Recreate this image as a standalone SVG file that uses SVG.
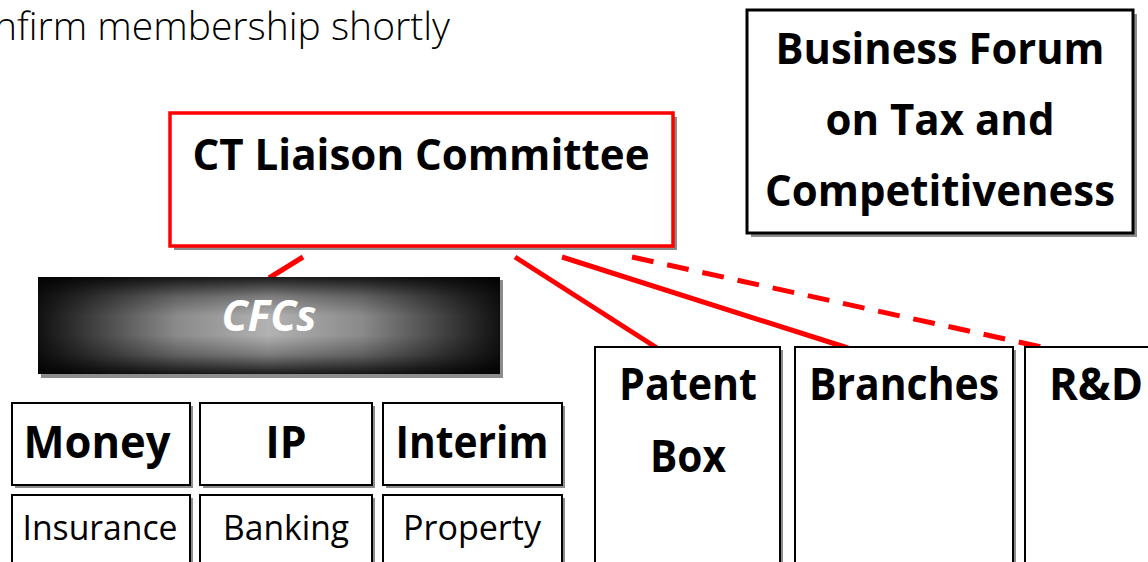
<svg xmlns="http://www.w3.org/2000/svg" width="1148" height="562" viewBox="0 0 1148 562">
<defs>
<linearGradient id="gh" x1="0" y1="0" x2="1" y2="0">
<stop offset="0" stop-color="#111"/>
<stop offset="0.07" stop-color="#2c2c2c"/>
<stop offset="0.3" stop-color="#8a8a8a"/>
<stop offset="0.5" stop-color="#b2b2b2"/>
<stop offset="0.7" stop-color="#8a8a8a"/>
<stop offset="0.93" stop-color="#2c2c2c"/>
<stop offset="1" stop-color="#111"/>
</linearGradient>
<linearGradient id="gv" x1="0" y1="0" x2="0" y2="1">
<stop offset="0" stop-color="#000" stop-opacity="0.85"/>
<stop offset="0.2" stop-color="#000" stop-opacity="0.3"/>
<stop offset="0.4" stop-color="#000" stop-opacity="0"/>
<stop offset="0.6" stop-color="#000" stop-opacity="0"/>
<stop offset="0.8" stop-color="#000" stop-opacity="0.3"/>
<stop offset="1" stop-color="#000" stop-opacity="0.85"/>
</linearGradient>
</defs>
<style>
.sh{fill:#8c8c8c}
.bx{fill:#fff;stroke:#000;stroke-width:2}
.bx3{fill:#fff;stroke:#000;stroke-width:3}
.rbx{fill:#fff;stroke:#f00;stroke-width:3.5}
.t{font-family:"Open Sans","Liberation Sans",sans-serif;font-weight:700;fill:#000;text-anchor:middle}
.tr{font-family:"Open Sans","Liberation Sans",sans-serif;font-weight:400;fill:#000;text-anchor:middle}
.c{stroke:#f00;stroke-width:5;fill:none}
.d{stroke-dasharray:22 14}
</style>
<text x="-6" y="40" font-family="'Open Sans','Noto Sans',sans-serif" font-weight="300" font-size="38" fill="#000" textLength="456" lengthAdjust="spacingAndGlyphs">nfirm membership shortly</text>

<g id="connectors">
<line class="c" x1="303" y1="257" x2="269" y2="278"/>
<line class="c" x1="515" y1="257" x2="657" y2="348"/>
<line class="c" x1="562" y1="257" x2="848" y2="348"/>
<line class="c d" x1="632" y1="257" x2="1046" y2="348"/>
</g>

<g id="ct">
<rect class="sh" x="174" y="117" width="503" height="133"/>
<rect class="rbx" x="170" y="113" width="503" height="133"/>
<text class="t" x="421" y="170" font-size="43" textLength="457" lengthAdjust="spacingAndGlyphs">CT Liaison Committee</text>
</g>

<g id="forum">
<rect class="sh" x="751" y="14" width="386" height="223"/>
<rect class="bx3" x="747" y="10" width="386" height="223"/>
<text class="t" x="940" y="64" font-size="43" textLength="329" lengthAdjust="spacingAndGlyphs">Business Forum</text>
<text class="t" x="940" y="135" font-size="43" textLength="229" lengthAdjust="spacingAndGlyphs">on Tax and</text>
<text class="t" x="940" y="206" font-size="43" textLength="350" lengthAdjust="spacingAndGlyphs">Competitiveness</text>
</g>

<g id="cfcs">
<rect class="sh" x="41" y="280" width="462" height="98"/>
<rect x="38" y="277" width="462" height="97" fill="url(#gh)"/>
<rect x="38" y="277" width="462" height="97" fill="url(#gv)"/>
<text x="269" y="331" font-family="'Open Sans','Liberation Sans',sans-serif" font-weight="700" font-style="italic" font-size="43" fill="#fff" text-anchor="middle" textLength="95" lengthAdjust="spacingAndGlyphs">CFCs</text>
</g>

<g id="money">
<rect class="sh" x="15" y="406" width="178" height="82"/>
<rect class="bx" x="12" y="403" width="178" height="82"/>
<text class="t" x="97" y="458" font-size="44" textLength="147" lengthAdjust="spacingAndGlyphs">Money</text>
</g>
<g id="ip">
<rect class="sh" x="203" y="406" width="172" height="82"/>
<rect class="bx" x="200" y="403" width="172" height="82"/>
<text class="t" x="286" y="458" font-size="44" textLength="41" lengthAdjust="spacingAndGlyphs">IP</text>
</g>
<g id="interim">
<rect class="sh" x="386" y="406" width="179" height="82"/>
<rect class="bx" x="383" y="403" width="179" height="82"/>
<text class="t" x="472" y="458" font-size="44" textLength="153" lengthAdjust="spacingAndGlyphs">Interim</text>
</g>

<g id="insurance">
<rect class="sh" x="15" y="498" width="178" height="70"/>
<rect class="bx" x="12" y="495" width="178" height="70"/>
<text class="tr" x="100" y="540" font-size="35" textLength="155" lengthAdjust="spacingAndGlyphs">Insurance</text>
</g>
<g id="banking">
<rect class="sh" x="203" y="498" width="172" height="70"/>
<rect class="bx" x="200" y="495" width="172" height="70"/>
<text class="tr" x="286" y="540" font-size="35" textLength="126" lengthAdjust="spacingAndGlyphs">Banking</text>
</g>
<g id="property">
<rect class="sh" x="386" y="498" width="179" height="70"/>
<rect class="bx" x="383" y="495" width="179" height="70"/>
<text class="tr" x="472" y="540" font-size="35" textLength="138" lengthAdjust="spacingAndGlyphs">Property</text>
</g>

<g id="patent">
<rect class="sh" x="598" y="350" width="185" height="220"/>
<rect class="bx" x="595" y="347" width="185" height="220"/>
<text class="t" x="688" y="400" font-size="44" textLength="138" lengthAdjust="spacingAndGlyphs">Patent</text>
<text class="t" x="688" y="472" font-size="44" textLength="76" lengthAdjust="spacingAndGlyphs">Box</text>
</g>
<g id="branches">
<rect class="sh" x="798" y="350" width="218" height="220"/>
<rect class="bx" x="795" y="347" width="218" height="220"/>
<text class="t" x="904" y="400" font-size="44" textLength="190" lengthAdjust="spacingAndGlyphs">Branches</text>
</g>
<g id="rd">
<rect class="sh" x="1028" y="350" width="140" height="220"/>
<rect class="bx" x="1025" y="347" width="140" height="220"/>
<text class="t" x="1096" y="400" font-size="44" textLength="94" lengthAdjust="spacingAndGlyphs">R&amp;D</text>
</g>
</svg>
